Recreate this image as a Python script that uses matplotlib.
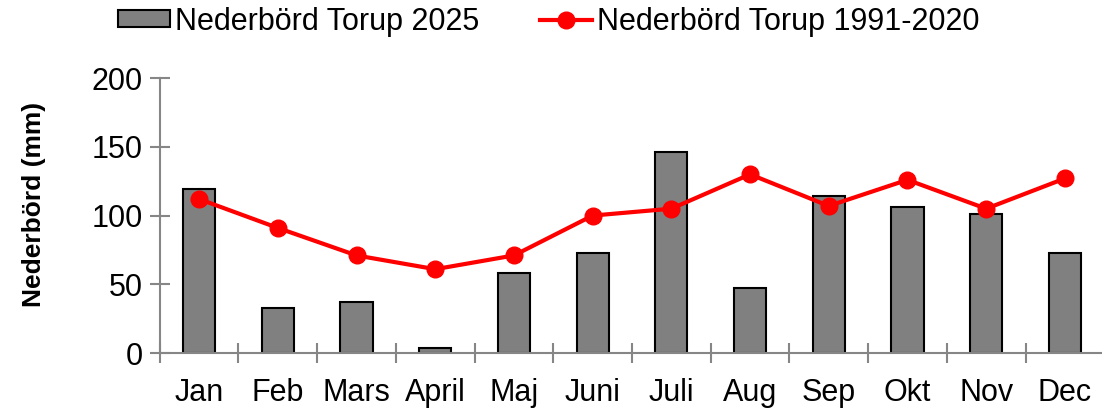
import matplotlib
matplotlib.use("Agg")
import matplotlib.pyplot as plt
import numpy as np

plt.rcParams['font.family'] = ['Liberation Sans', 'DejaVu Sans']

# monthly precipitation at Torup (mm)
months = ['Jan', 'Feb', 'Mars', 'April', 'Maj', 'Juni', 'Juli', 'Aug', 'Sep', 'Okt', 'Nov', 'Dec']
rain_2025 = [119, 33, 37, 4, 58, 73, 146, 47, 114, 106, 101, 73]
rain_normal = [112, 91, 71, 61, 71, 100, 105, 130, 107, 126, 105, 127]

fig = plt.figure(figsize=(11.02, 4.11), dpi=100)
ax = fig.add_axes([0.145, 0.141, 0.857, 0.669])

x = np.arange(len(months))
bars = ax.bar(x, rain_2025, width=0.41, color='#808080', edgecolor='black', linewidth=1.5,
              label='Nederbörd Torup 2025', zorder=2)
line, = ax.plot(x, rain_normal, color='#ff0000', linewidth=3, marker='o', markersize=12,
                label='Nederbörd Torup 1991-2020', zorder=3)

ax.set_xlim(-0.5, len(months) - 0.5)
ax.set_ylim(0, 200)
ax.set_yticks([0, 50, 100, 150, 200])
ax.set_xticks(x)
ax.set_xticklabels(months)
ax.set_xticks(np.arange(-0.5, len(months)), minor=True)

grey = '#868686'
for side in ['top', 'right']:
    ax.spines[side].set_visible(False)
for side in ['left', 'bottom']:
    ax.spines[side].set_color(grey)
    ax.spines[side].set_linewidth(1.5)

ax.tick_params(axis='y', direction='inout', length=14, width=1.5, color=grey,
               labelsize=22, pad=5)
ax.tick_params(axis='x', which='major', length=0, labelsize=22, pad=18)
ax.tick_params(axis='x', which='minor', direction='inout', length=14, width=1.5, color=grey)

ax.set_ylabel('Nederbörd (mm)', fontsize=19, fontweight='bold')
ax.yaxis.set_label_coords(-0.12, 0.54)

ax.legend([bars, line], [bars.get_label(), line.get_label()],
          loc='upper center', bbox_to_anchor=(0.412, 1.36), ncol=2, frameon=False,
          fontsize=22, handlelength=1.7, handleheight=0.5, handletextpad=0.15,
          columnspacing=2.0)

fig.savefig('out.png', dpi=100)
